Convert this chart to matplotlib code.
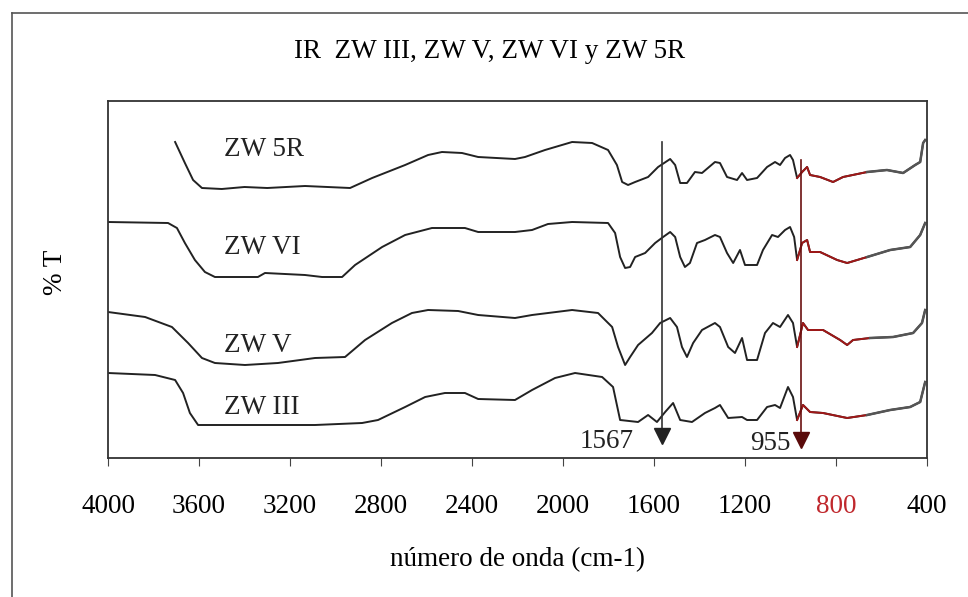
import numpy as np
import matplotlib
matplotlib.use("Agg")
import matplotlib.pyplot as plt
from matplotlib.lines import Line2D

plt.rcParams["font.family"] = ["Liberation Serif", "DejaVu Serif"]

# ---------- Data (%T in arbitrary offset units) ----------
wn_5r = [3705, 3662, 3626, 3587, 3500, 3400, 3300, 3134, 2936, 2839, 2694, 2593, 2532, 2444,
         2373, 2211, 2167, 2079, 1960, 1872, 1802, 1763, 1740, 1714, 1683, 1626, 1582, 1529,
         1507, 1485, 1455, 1420, 1389, 1332, 1310, 1279, 1235, 1213, 1191, 1147, 1103, 1068,
         1046, 1024, 1002, 989, 971, 949, 927, 914, 870, 813, 769, 663, 576, 505, 452, 430,
         417, 408]
t_5r = [316, 295, 278, 270, 269, 271, 270, 272, 270, 280, 293, 303, 306, 305,
        301, 299, 301, 308, 316, 315, 308, 293, 276, 273, 276, 281, 291, 299,
        293, 275, 275, 286, 285, 296, 295, 281, 278, 285, 278, 280, 291, 296,
        293, 300, 303, 298, 280, 286, 291, 283, 281, 276, 281, 286, 288, 285, 293, 296,
        315, 318]

wn_vi = [4000, 3736, 3697, 3662, 3618, 3574, 3530, 3341, 3310, 3134, 3059, 2971, 2914, 2795,
         2694, 2576, 2431, 2373, 2211, 2136, 2066, 1960, 1802, 1771, 1749, 1727, 1705, 1683,
         1639, 1595, 1560, 1529, 1507, 1485, 1464, 1442, 1411, 1376, 1332, 1310, 1279, 1252,
         1222, 1200, 1147, 1121, 1081, 1055, 1024, 1002, 984, 971, 949, 927, 914, 870, 795,
         751, 663, 562, 474, 430, 408]
t_vi = [236, 235, 230, 215, 198, 186, 181, 181, 185, 183, 181, 181, 193, 211,
        223, 230, 230, 226, 226, 228, 234, 236, 235, 225, 201, 190, 191, 201,
        205, 215, 221, 226, 221, 201, 191, 195, 215, 218, 223, 221, 205, 195,
        208, 193, 193, 208, 223, 221, 228, 231, 221, 198, 215, 218, 206, 206, 198,
        195, 201, 208, 211, 223, 235]

wn_v = [4000, 3837, 3719, 3648, 3587, 3530, 3398, 3253, 3090, 2958, 2870, 2752, 2664, 2593,
        2461, 2373, 2211, 2136, 1960, 1846, 1784, 1758, 1727, 1705, 1670, 1609, 1573, 1529,
        1499, 1477, 1455, 1428, 1389, 1332, 1310, 1274, 1244, 1213, 1191, 1147, 1112, 1077,
        1046, 1011, 989, 971, 945, 923, 857, 782, 751, 725, 650, 549, 461, 422, 408]
t_v = [146, 141, 131, 115, 100, 95, 93, 95, 100, 101, 118, 135, 145, 148,
       147, 143, 140, 143, 148, 145, 131, 111, 93, 101, 113, 125, 135, 140,
       131, 111, 101, 115, 128, 135, 131, 111, 105, 120, 98, 98, 125, 135,
       131, 143, 135, 111, 135, 128, 128, 118, 113, 118, 120, 121, 125, 135, 148]

wn_iii = [4000, 3793, 3705, 3670, 3640, 3604, 3090, 2883, 2813, 2694, 2606, 2519, 2431, 2373,
          2211, 2136, 2035, 1947, 1828, 1780, 1749, 1670, 1626, 1587, 1551, 1516, 1485, 1433,
          1376, 1332, 1310, 1274, 1213, 1191, 1147, 1103, 1068, 1046, 1011, 989, 971, 945,
          914, 857, 751, 663, 562, 474, 430, 408]
t_iii = [85, 83, 78, 65, 45, 33, 33, 35, 38, 51, 61, 65, 65, 59,
         58, 68, 80, 85, 81, 71, 38, 36, 43, 36, 46, 55, 38, 36,
         45, 50, 53, 40, 41, 38, 38, 51, 53, 50, 71, 61, 38, 53,
         46, 45, 40, 43, 48, 51, 56, 76]

series = [
    ("ZW 5R", wn_5r, t_5r, 308),
    ("ZW VI", wn_vi, t_vi, 210),
    ("ZW V", wn_v, t_v, 113),
    ("ZW III", wn_iii, t_iii, 50),
]

x_ticks = [4000, 3600, 3200, 2800, 2400, 2000, 1600, 1200, 800, 400]
marks = [1567, 955]

FS = 19.5

# ---------- Plot ----------
fig = plt.figure(figsize=(9.68, 5.97), dpi=100)
ax = fig.add_axes([108 / 968, 1 - 458 / 597, (927 - 108) / 968, (458 - 101) / 597])

for name, wn, t, ylab in series:
    wn = np.array(wn)
    t = np.array(t)
    ax.plot(wn, t, color="#222222", lw=1.4)
    # scanned red band between the 955 line and ~660 cm-1
    m = (wn <= 971) & (wn >= 650)
    ax.plot(wn[m], t[m], color="#a01818", lw=1.4)
    m2 = wn <= 663
    ax.plot(wn[m2], t[m2], color="#555555", lw=1.8)
    ax.text(3490, ylab, name, fontsize=FS, ha="left", va="center", color="#222222")

# marker lines
ax.plot([marks[0], marks[0]], [316, 24], color="#333333", lw=1.2)
ax.plot([marks[0]], [22], marker="v", ms=11, color="#222222")
ax.text(1690, 17, str(marks[0]), fontsize=FS, ha="right", va="center", color="#222222")

ax.plot([marks[1], marks[1]], [298, 20], color="#6b1010", lw=1.2)
ax.plot([marks[1]], [18], marker="v", ms=11, color="#5a0a0a")
ax.text(1000, 15, str(marks[1]), fontsize=FS, ha="right", va="center", color="#222222")

ax.set_xlim(4000, 400)
ax.set_ylim(0, 357)
ax.set_yticks([])
ax.set_xticks(x_ticks)
ax.set_xticklabels([str(v) for v in x_ticks], fontsize=FS)
for lbl in ax.get_xticklabels():
    if lbl.get_text() == "800":
        lbl.set_color("#c0282d")
ax.tick_params(axis="x", direction="out", length=6, pad=20, color="#444444")
for s in ax.spines.values():
    s.set_color("#333333")
    s.set_linewidth(1.3)

ax.set_xlabel("número de onda (cm-1)", fontsize=FS, labelpad=20)
fig.text(55 / 968, 1 - 272 / 597, "% T", rotation=90, fontsize=FS, ha="center", va="center")
fig.text(490 / 968, 1 - 51 / 597, "IR  ZW III, ZW V, ZW VI y ZW 5R", fontsize=FS,
         ha="center", va="center")

# outer frame of the scanned figure
fig.add_artist(Line2D([12 / 968, 1.0], [1 - 13 / 597, 1 - 13 / 597], color="#555555", lw=1.2))
fig.add_artist(Line2D([12 / 968, 12 / 968], [0.0, 1 - 13 / 597], color="#555555", lw=1.2))

fig.savefig("out.png", dpi=100)
